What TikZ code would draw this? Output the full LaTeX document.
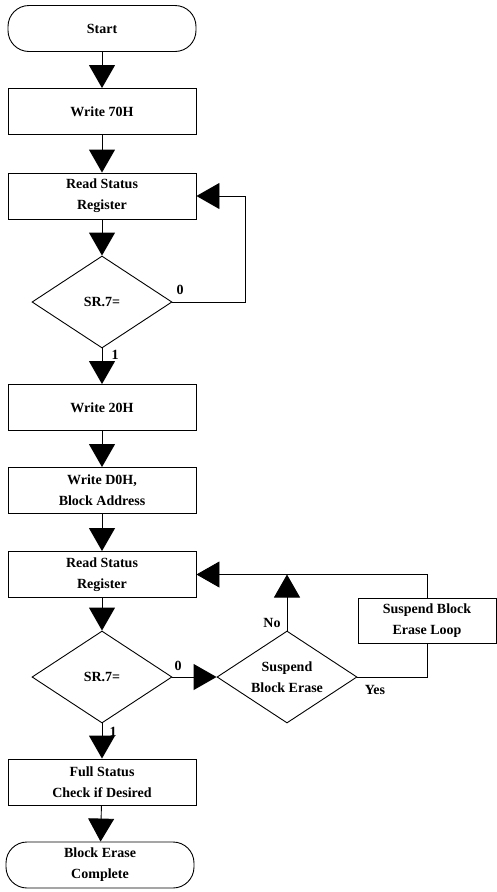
\documentclass[tikz,border=0pt]{standalone}
\usepackage{fontspec}
\setmainfont{Liberation Serif}
\usetikzlibrary{shapes.geometric,arrows.meta}
\begin{document}
\begin{tikzpicture}[x=1pt,y=-1pt,
  txt/.style={font=\bfseries\fontsize{14}{21}\selectfont, align=center},
  box/.style={txt, draw, line width=0.9pt, inner sep=0pt, minimum width=188pt, minimum height=46pt},
  term/.style={box, rounded corners=21pt},
  dia/.style={draw, diamond, line width=0.9pt, inner sep=0pt, minimum width=140pt, minimum height=92pt},
  flow/.style={line width=0.9pt, -{Triangle[length=23pt,width=26pt]}},
  line/.style={line width=0.9pt},
  lab/.style={font=\bfseries\fontsize{14}{16}\selectfont, inner sep=0pt}]
\useasboundingbox (0,0) rectangle (497,892);

\node[term] (start) at (102,28.5) {Start};
\node[box] (w70) at (102,111.5) {Write 70H};
\node[box] (rs1) at (102,196) {Read Status\\Register};
\node[dia] (d1) at (102,302) {};
\node[txt] (d1t) at (102,302) {SR.7=};
\node[box] (w20) at (102,407.5) {Write 20H};
\node[box] (wd0) at (102,490.5) {Write D0H,\\Block Address};
\node[box] (rs2) at (102,574.5) {Read Status\\Register};
\node[dia] (d2) at (102,677) {};
\node[txt] (d2t) at (102,677) {SR.7=};
\node[box] (full) at (102,782) {Full Status\\Check if Desired};
\node[term] (done) at (100,865) {Block Erase\\Complete};
\node[dia] (sd) at (287,677) {};
\node[txt] (sdt) at (287,677) {Suspend\\Block Erase};
\node[box, minimum width=138pt, minimum height=45pt] (loop) at (427,620.5) {Suspend Block\\Erase Loop};

\coordinate (c1) at (245,302);
\coordinate (c2) at (245,196);
\coordinate (c3) at (427,574.5);

\draw[flow] (start) -- (w70);
\draw[flow] (w70) -- (rs1);
\draw[flow] (rs1) -- (d1);
\draw[flow] (d1.south) -- (w20);
\draw[flow] (w20) -- (wd0);
\draw[flow] (wd0) -- (rs2);
\draw[flow] (rs2) -- (d2);
\draw[flow] (d2.south) -- (full);
\draw[flow] (full) -- (done);
\draw[flow] (d1.east) -- (c1) -- (c2) -- (rs1.east);
\draw[flow] (d2.east) -- (sd.west);
\draw[flow] (sd.north) -- (sd.north |- rs2.east);
\draw[line] (sd.east) -| (loop.south);
\draw[flow] (loop.north) -- (c3) -- (rs2.east);

\node[lab] (l0a) at (180,290) {0};
\node[lab] (l1a) at (115,355) {1};
\node[lab] (l0b) at (178,666) {0};
\node[lab] (l1b) at (113,732) {1};
\node[lab] (lno) at (272,623) {No};
\node[lab] (lyes) at (375,690) {Yes};
\end{tikzpicture}
\end{document}
